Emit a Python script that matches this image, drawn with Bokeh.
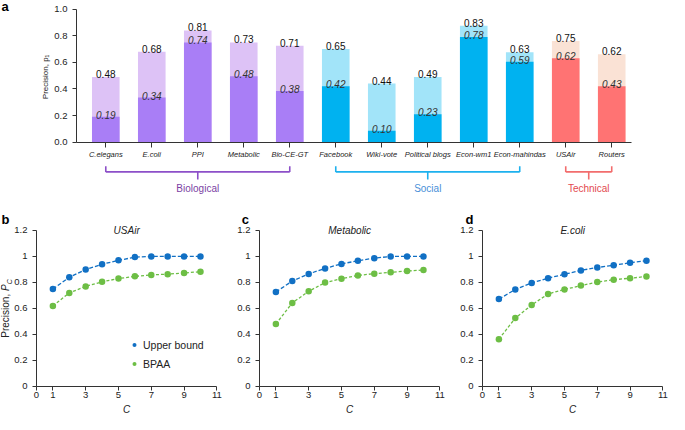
import numpy as np
from bokeh.plotting import figure
from bokeh.models import (Range1d, FixedTicker, NumeralTickFormatter, Legend,
                          LegendItem, ColumnDataSource)
from bokeh.layouts import column, row
from bokeh.embed import file_html
from bokeh.resources import INLINE
from bokeh.core.properties import value

FONT = "Liberation Sans"

# ---------------- data: panel a ----------------
networks = ["C.elegans", "E.coli", "PPI", "Metabolic", "Bio-CE-GT", "Facebook",
            "Wiki-vote", "Political blogs", "Econ-wm1", "Econ-mahindas", "USAir", "Routers"]
upper_bar = [0.49, 0.68, 0.84, 0.75, 0.725, 0.70, 0.44, 0.49, 0.875, 0.675, 0.76, 0.66]
bpaa_bar = [0.19, 0.335, 0.75, 0.495, 0.385, 0.42, 0.085, 0.21, 0.79, 0.605, 0.63, 0.42]
upper_text = ["0.48", "0.68", "0.81", "0.73", "0.71", "0.65", "0.44", "0.49", "0.83", "0.63", "0.75", "0.62"]
bpaa_text = ["0.19", "0.34", "0.74", "0.48", "0.38", "0.42", "0.10", "0.23", "0.78", "0.59", "0.62", "0.43"]
group_of = [0, 0, 0, 0, 0, 1, 1, 1, 1, 1, 2, 2]
groups = ["Biological", "Social", "Technical"]
group_first = [0, 5, 10]
group_last = [4, 9, 11]

dark_colors = ["#A97EF6", "#00B2F0", "#FF7373"]
light_colors = ["#DDC2F6", "#A2E4F9", "#FAE2D5"]
bracket_colors = ["#8C4FC8", "#1DB1EE", "#F26D6D"]
group_text_colors = ["#7B3FA3", "#4A8FD8", "#E34A50"]

# ---------------- data: panels b-d ----------------
C = [1, 2, 3, 4, 5, 6, 7, 8, 9, 10]
usair_upper = [0.75, 0.84, 0.90, 0.94, 0.97, 0.995, 1.0, 1.0, 1.0, 1.0]
usair_bpaa = [0.62, 0.72, 0.77, 0.805, 0.83, 0.847, 0.858, 0.864, 0.873, 0.883]
metab_upper = [0.727, 0.811, 0.866, 0.908, 0.943, 0.967, 0.987, 1.0, 1.0, 1.0]
metab_bpaa = [0.48, 0.643, 0.732, 0.799, 0.829, 0.854, 0.868, 0.878, 0.888, 0.896]
ecoli_upper = [0.672, 0.746, 0.796, 0.833, 0.863, 0.893, 0.915, 0.932, 0.952, 0.967]
ecoli_bpaa = [0.364, 0.526, 0.627, 0.712, 0.746, 0.776, 0.803, 0.821, 0.833, 0.846]

BLUE = "#1170C4"
GREEN = "#6DBE45"
AXIS = "#333333"
TXT = "#222222"


def style_axis(ax, size):
    ax.major_label_text_font = FONT
    ax.major_label_text_font_size = size
    ax.major_label_text_color = TXT
    ax.major_tick_in = 0
    ax.major_tick_out = 4
    ax.minor_tick_line_color = None
    ax.axis_line_color = AXIS
    ax.major_tick_line_color = AXIS


# ================= panel a =================
X0A = -0.637  # where the y axis sits
top = figure(width=669, height=200, x_range=Range1d(-2.289, 12.256), y_range=Range1d(-0.439, 1.065),
             output_backend="svg", toolbar_location=None,
             min_border_left=0, min_border_right=0, min_border_top=0, min_border_bottom=0)
top.outline_line_color = None
top.grid.visible = False

xs = list(range(len(networks)))
src = ColumnDataSource(dict(
    x=xs, up=upper_bar, lo=bpaa_bar,
    light=[light_colors[g] for g in group_of], dark=[dark_colors[g] for g in group_of],
    ut=upper_text, bt=bpaa_text,
    uy=[u + 0.023 for u in upper_bar], by=[b + 0.015 for b in bpaa_bar]))
top.vbar(x="x", top="up", width=0.6, fill_color="light", line_color=None, source=src)
top.vbar(x="x", top="lo", width=0.6, fill_color="dark", line_color=None, source=src)
top.text(x="x", y="uy", text="ut", text_align="center", text_baseline="alphabetic",
         text_font=value(FONT), text_font_size="10px", text_color="#111111", source=src)
top.text(x="x", y="by", text="bt", text_align="center", text_baseline="alphabetic",
         text_font=value(FONT), text_font_size="10px", text_font_style="italic",
         text_color="#333333", source=src)

xa = top.xaxis[0]
xa.fixed_location = 0
xa.bounds = (X0A, 11.43)
xa.ticker = FixedTicker(ticks=xs)
xa.major_label_overrides = {i: n for i, n in enumerate(networks)}
style_axis(xa, "7.5px")
xa.major_label_text_font_style = "italic"
xa.major_label_standoff = 3
xa.major_tick_out = 5

ya = top.yaxis[0]
ya.fixed_location = X0A
ya.bounds = (0, 1.0)
ya.ticker = FixedTicker(ticks=[0, 0.2, 0.4, 0.6, 0.8, 1.0])
ya.formatter = NumeralTickFormatter(format="0.0")
style_axis(ya, "9.5px")

# brackets
y_h, y_end, y_mid, y_txt = -0.224, -0.181, -0.282, -0.348
x0s, y0s, x1s, y1s, cols = [], [], [], [], []
for g in range(len(groups)):
    a, b = group_first[g], group_last[g]
    m = (a + b) / 2
    for seg in [(a, y_h, b, y_h), (a, y_end, a, y_h), (b, y_end, b, y_h), (m, y_h, m, y_mid)]:
        x0s.append(seg[0]); y0s.append(seg[1]); x1s.append(seg[2]); y1s.append(seg[3])
        cols.append(bracket_colors[g])
top.segment(x0=x0s, y0=y0s, x1=x1s, y1=y1s, line_color=cols, line_width=1.6, line_cap="butt")
top.text(x=[(group_first[g] + group_last[g]) / 2 for g in range(3)], y=[y_txt] * 3, text=groups,
         text_align="center", text_baseline="middle", text_font=value(FONT),
         text_font_size="10px", text_color=group_text_colors)

top.text(x=[-2.267], y=[1.02], text=["a"], text_font=value(FONT), text_font_style="bold",
         text_font_size="13px", text_align="left", text_baseline="middle", text_color="#000000")
top.text(x=[-1.32], y=[0.49], text=["Precision, p\u2081"], angle=np.pi / 2,
         text_font=value(FONT), text_font_size="8px", text_color=TXT,
         text_align="center", text_baseline="middle")


# ================= panels b-d =================
def panel(title, letter, letter_x, up, bp, with_ylabel, with_legend):
    p = figure(width=223, height=214, x_range=Range1d(-2.195, 11.405), y_range=Range1d(-0.2154, 1.4305),
               output_backend="svg", toolbar_location=None,
               min_border_left=0, min_border_right=0, min_border_top=0, min_border_bottom=0)
    p.outline_line_color = None
    p.grid.visible = False
    p.line(C, up, line_color=BLUE, line_dash="4 2", line_width=1.3)
    p.line(C, bp, line_color=GREEN, line_dash="3 2", line_width=1.3)
    r1 = p.scatter(C, up, size=6.5, fill_color=BLUE, line_color=None)
    r2 = p.scatter(C, bp, size=6.5, fill_color=GREEN, line_color=None)
    p.text(x=[5.5], y=[1.2], text=[title], text_align="center", text_baseline="middle",
           text_font=value(FONT), text_font_size="10px", text_font_style="italic",
           text_color=TXT)
    p.text(x=[5.5], y=[-0.175], text=["C"], text_align="center", text_baseline="middle",
           text_font=value(FONT), text_font_size="10px", text_font_style="italic",
           text_color=TXT)

    xa = p.xaxis[0]
    xa.fixed_location = 0
    xa.bounds = (0, 11)
    xa.ticker = FixedTicker(ticks=[0, 1, 3, 5, 7, 9, 11])
    xa.major_label_standoff = 2
    ya = p.yaxis[0]
    ya.fixed_location = 0
    ya.bounds = (0, 1.2)
    ya.ticker = FixedTicker(ticks=[0, 0.2, 0.4, 0.6, 0.8, 1.0, 1.2])
    ya.formatter = NumeralTickFormatter(format="0.[0]")
    style_axis(xa, "9.5px")
    style_axis(ya, "9.5px")

    p.text(x=[letter_x], y=[1.287], text=[letter], text_font=value(FONT), text_font_style="bold",
           text_font_size="13px", text_align="left", text_baseline="middle", text_color="#000000")
    if with_ylabel:
        lx = -1.87
        p.text(x=[lx], y=[0.375], text=["Precision, "], angle=np.pi / 2, text_font=value(FONT),
               text_font_size="10px", text_color=TXT, text_align="left", text_baseline="middle")
        p.text(x=[lx], y=[0.734], text=["P"], angle=np.pi / 2, text_font=value(FONT),
               text_font_size="10px", text_font_style="italic", text_color=TXT,
               text_align="left", text_baseline="middle")
        p.text(x=[lx + 0.23], y=[0.787], text=["C"], angle=np.pi / 2, text_font=value(FONT),
               text_font_size="7px", text_font_style="italic", text_color=TXT,
               text_align="left", text_baseline="middle")
    if with_legend:
        lg = Legend(items=[LegendItem(label="Upper bound", renderers=[r1]),
                           LegendItem(label="BPAA", renderers=[r2])],
                    location=(129, 40.6), padding=0, margin=0, spacing=0,
                    glyph_width=10, glyph_height=19, label_height=19, label_standoff=4,
                    label_text_font=FONT, label_text_font_size="10.5px",
                    label_text_color=TXT,
                    border_line_color=None, background_fill_alpha=0)
        p.add_layout(lg)
    return p


pb = panel("USAir", "b", -2.134, usair_upper, usair_bpaa, True, True)
pc = panel("Metabolic", "c", -1.085, metab_upper, metab_bpaa, False, False)
pd_ = panel("E.coli", "d", -1.042, ecoli_upper, ecoli_bpaa, False, False)

layout = column(top, row(pb, pc, pd_))
open("out.html", "w").write(file_html(layout, INLINE))
